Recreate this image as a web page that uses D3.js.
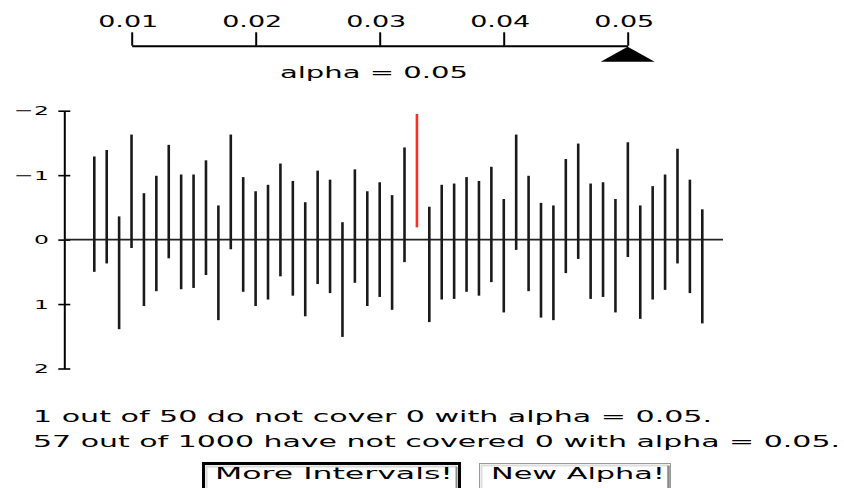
<!DOCTYPE html>
<html>
<head>
<meta charset="utf-8">
<script src="https://cdn.jsdelivr.net/npm/d3@7"></script>
<style>
  html, body { margin: 0; padding: 0; background: #fff; }
  svg { display: block; }
  text { font-family: "DejaVu Sans", Verdana, sans-serif; fill: #000; }
</style>
</head>
<body>
<svg id="chart" width="844" height="488"></svg>
<script>
// ---- data ----
const lower = [-1.29,-1.39,-0.36,-1.63,-0.72,-0.99,-1.47,-1.01,-1.01,-1.23,
               -0.53,-1.63,-0.97,-0.75,-0.85,-1.18,-0.91,-0.58,-1.07,-0.93,
               -0.27,-1.09,-0.75,-0.89,-0.69,-1.43,-1.95,-0.51,-0.85,-0.87,
               -0.97,-0.91,-1.13,-0.63,-1.63,-0.99,-0.57,-0.53,-1.25,-1.49,
               -0.87,-0.89,-0.63,-1.51,-0.53,-0.83,-1.01,-1.41,-0.93,-0.47];
const upper = [0.50,0.37,1.39,0.13,1.03,0.80,0.29,0.77,0.75,0.55,
               1.25,0.15,0.81,1.03,0.93,0.57,0.87,1.19,0.69,0.83,
               1.51,0.67,1.03,0.89,1.09,0.35,-0.19,1.28,0.93,0.92,
               0.81,0.87,0.66,1.13,0.16,0.80,1.21,1.25,0.52,0.30,
               0.92,0.89,1.13,0.27,1.23,0.93,0.78,0.37,0.83,1.30];
const yTicks = [-2, -1, 0, 1, 2];
const alphaTicks = [0.01, 0.02, 0.03, 0.04, 0.05];
const alpha = 0.05;
const cumulativeMissed = 57;
const cumulativeTotal = 1000;
const buttonLabels = ["More Intervals!", "New Alpha!"];

// ---- setup ----
const svg = d3.select("#chart");
const SX = 1.8; // horizontal glyph stretch of the original

const n = lower.length;
const x = d3.scaleLinear().domain([1, n]).range([94.3, 702.3]);
const y = d3.scaleLinear().domain([-2, 2]).range([110.7, 368.5]);

// ---- alpha slider ----
const ax = d3.scaleLinear().domain([0.01, 0.05]).range([131.7, 627.7]);
const slider = svg.append("g").attr("transform", "translate(0,45.7)")
  .call(d3.axisTop(ax).tickValues(alphaTicks).tickFormat(d3.format(".2f"))
        .tickSize(13.4).tickSizeOuter(0));
slider.select(".domain").attr("stroke", "#000").attr("stroke-width", 2);
slider.selectAll(".tick line").attr("stroke", "#000").attr("stroke-width", 2);
slider.selectAll(".tick text")
  .attr("font-size", 15).attr("font-family", "DejaVu Sans")
  .attr("fill", "#000")
  .attr("y", -19).attr("dy", 0)
  .attr("x", -4 / SX)
  .attr("transform", `scale(${SX},1)`);

// slider thumb
const tx = ax(alpha);
svg.append("path")
  .attr("d", `M${tx},46.7 L${tx + 27},61.7 L${tx - 27},61.7 Z`)
  .attr("fill", "#000");

svg.append("text")
  .attr("x", 280).attr("y", 77.5)
  .attr("font-size", 16)
  .attr("textLength", 188).attr("lengthAdjust", "spacingAndGlyphs")
  .text(`alpha = ${alpha}`);

// ---- y axis ----
const yAxis = svg.append("g").attr("transform", "translate(64.3,0)")
  .call(d3.axisLeft(y).tickValues(yTicks).tickFormat(d3.format("d"))
        .tickSizeOuter(0));
yAxis.select(".domain").attr("stroke", "#000").attr("stroke-width", 2);
yAxis.selectAll(".tick line").attr("x1", -6).attr("x2", 6)
  .attr("stroke", "#000").attr("stroke-width", 1.6);
yAxis.selectAll(".tick text")
  .attr("font-size", 13).attr("font-family", "DejaVu Sans").attr("fill", "#000")
  .attr("x", -15.5 / SX)
  .attr("transform", `scale(${SX},1)`);

// zero line
svg.append("line")
  .attr("x1", 64.3).attr("x2", 723).attr("y1", y(0)).attr("y2", y(0))
  .attr("stroke", "#222").attr("stroke-width", 1.6);

// ---- intervals ----
const data = lower.map((lo, i) => ({ i: i + 1, lo, hi: upper[i] }));
svg.append("g").selectAll("line.ci").data(data).join("line")
  .attr("class", "ci")
  .attr("x1", d => x(d.i)).attr("x2", d => x(d.i))
  .attr("y1", d => y(d.lo)).attr("y2", d => y(d.hi))
  .attr("stroke", d => (d.lo > 0 || d.hi < 0) ? "#ff2a2a" : "#1a1a1a")
  .attr("stroke-width", 2.6)
  .attr("stroke-linecap", "butt");

// ---- summary text ----
const missed = data.filter(d => d.lo > 0 || d.hi < 0).length;
svg.append("text")
  .attr("x", 33).attr("y", 421.7).attr("font-size", 16)
  .attr("textLength", 679).attr("lengthAdjust", "spacingAndGlyphs")
  .text(`${missed} out of ${n} do not cover 0 with alpha = ${alpha}.`);
svg.append("text")
  .attr("x", 33).attr("y", 447).attr("font-size", 16)
  .attr("textLength", 807).attr("lengthAdjust", "spacingAndGlyphs")
  .text(`${cumulativeMissed} out of ${cumulativeTotal} have not covered 0 with alpha = ${alpha}.`);

// ---- buttons ----
// More Intervals! (default button, black frame)
const b1 = svg.append("g");
b1.append("rect").attr("x", 203.5).attr("y", 463.5).attr("width", 256).attr("height", 32)
  .attr("fill", "#fff").attr("stroke", "#000").attr("stroke-width", 3);
b1.append("path").attr("d", "M206.5,494 L206.5,466.5 L456.5,466.5")
  .attr("fill", "none").attr("stroke", "#d8d8d8").attr("stroke-width", 2);
b1.append("path").attr("d", "M456.5,466.5 L456.5,494")
  .attr("fill", "none").attr("stroke", "#8a8a8a").attr("stroke-width", 2);
b1.append("text").attr("x", 215).attr("y", 478.5).attr("font-size", 16)
  .attr("textLength", 238).attr("lengthAdjust", "spacingAndGlyphs")
  .text(buttonLabels[0]);

// New Alpha!
const b2 = svg.append("g");
b2.append("rect").attr("x", 479.5).attr("y", 463.5).attr("width", 191).attr("height", 32)
  .attr("fill", "#fff").attr("stroke", "#9a9a9a").attr("stroke-width", 1);
b2.append("path").attr("d", "M481.5,494 L481.5,465.5 L668.5,465.5")
  .attr("fill", "none").attr("stroke", "#dedede").attr("stroke-width", 2);
b2.append("path").attr("d", "M668.5,465.5 L668.5,494")
  .attr("fill", "none").attr("stroke", "#8a8a8a").attr("stroke-width", 2.5);
b2.append("text").attr("x", 491).attr("y", 478.5).attr("font-size", 16)
  .attr("textLength", 174).attr("lengthAdjust", "spacingAndGlyphs")
  .text(buttonLabels[1]);
</script>
</body>
</html>
